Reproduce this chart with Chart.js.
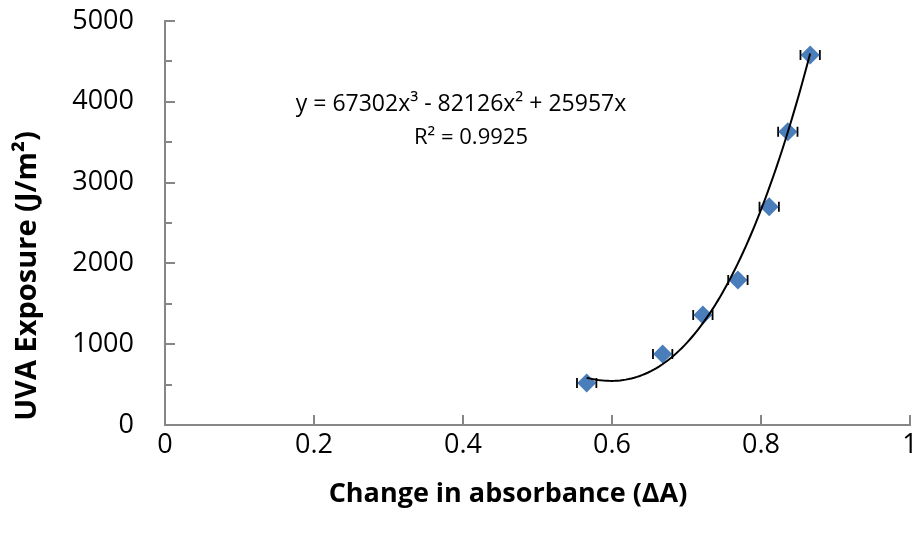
<!DOCTYPE html>
<html>
<head>
<meta charset="utf-8">
<script src="https://cdn.jsdelivr.net/npm/chart.js@4.4.0/dist/chart.umd.min.js"></script>
<style>
html, body { margin: 0; padding: 0; background: #fff; }
</style>
</head>
<body>
<canvas id="myChart" width="921" height="535"></canvas>
<script>
// Values
var deltaA = [0.566, 0.668, 0.722, 0.769, 0.811, 0.836, 0.866];
var uvaExposure = [520, 880, 1360, 1795, 2700, 3630, 4580];
var deltaAError = [0.013, 0.013, 0.013, 0.013, 0.013, 0.013, 0.013];

// Trendline as printed on the chart (x^3, x^2, x, constant)
var fitCoeffs = [67302, -82126, 25957, 0];
var equationLines = ["y = 67302x³ - 82126x² + 25957x", "R² = 0.9925"];

var xTicks = [0, 0.2, 0.4, 0.6, 0.8, 1];
var yTicks = [0, 1000, 2000, 3000, 4000, 5000];
var yMinorTicks = [500, 1500, 2500, 3500, 4500];

var xTitle = "Change in absorbance (ΔA)";
var yTitle = "UVA Exposure (J/m²)";

var axisGrey = "#868686";
var markerBlue = "#4a7ebb";
var fontName = "'Open Sans', sans-serif";

// points of the printed trendline, between the first and last data point
var fitPoints = [];
var xStart = Math.min.apply(null, deltaA);
var xEnd = Math.max.apply(null, deltaA);
for (var i = 0; i <= 80; i++) {
	var x = xStart + (xEnd - xStart) * i / 80;
	var y = fitCoeffs[0] * x * x * x + fitCoeffs[1] * x * x + fitCoeffs[2] * x + fitCoeffs[3];
	fitPoints.push({ x: x, y: y });
}

var points = deltaA.map(function(x, i) {
	return { x: x, y: uvaExposure[i] };
});

// error bars, inward ticks, titles and equation
var extras = {
	id: "extras",
	beforeDatasetsDraw: function(chart) {
		var ctx = chart.ctx;
		var xs = chart.scales.x;
		var ys = chart.scales.y;
		ctx.save();
		ctx.strokeStyle = "#000";
		ctx.lineWidth = 1.8;
		for (var i = 0; i < deltaA.length; i++) {
			var py = ys.getPixelForValue(uvaExposure[i]);
			var left = xs.getPixelForValue(deltaA[i] - deltaAError[i]);
			var right = xs.getPixelForValue(deltaA[i] + deltaAError[i]);
			ctx.beginPath();
			ctx.moveTo(left, py);
			ctx.lineTo(right, py);
			ctx.moveTo(left, py - 5);
			ctx.lineTo(left, py + 5);
			ctx.moveTo(right, py - 5);
			ctx.lineTo(right, py + 5);
			ctx.stroke();
		}
		ctx.restore();
	},
	afterDraw: function(chart) {
		var ctx = chart.ctx;
		var xs = chart.scales.x;
		var ys = chart.scales.y;
		var area = chart.chartArea;
		ctx.save();
		ctx.strokeStyle = axisGrey;
		ctx.lineWidth = 2;
		ctx.beginPath();
		yTicks.forEach(function(v) {
			var p = Math.round(ys.getPixelForValue(v));
			ctx.moveTo(area.left, p);
			ctx.lineTo(area.left + 10, p);
		});
		yMinorTicks.forEach(function(v) {
			var p = Math.round(ys.getPixelForValue(v));
			ctx.moveTo(area.left, p);
			ctx.lineTo(area.left + 7, p);
		});
		xTicks.forEach(function(v) {
			var p = Math.round(xs.getPixelForValue(v));
			ctx.moveTo(p, area.bottom);
			ctx.lineTo(p, area.bottom - 10);
		});
		ctx.stroke();

		ctx.fillStyle = "#000";
		ctx.textAlign = "center";
		ctx.textBaseline = "middle";
		ctx.font = "bold 27px " + fontName;
		ctx.fillText(xTitle, 508, 494);

		ctx.save();
		ctx.translate(28, 276);
		ctx.rotate(-Math.PI / 2);
		ctx.font = "bold 29px " + fontName;
		ctx.fillText(yTitle, 0, 0);
		ctx.restore();

		ctx.font = "23px " + fontName;
		ctx.fillText(equationLines[0], 461, 104);
		ctx.font = "22px " + fontName;
		ctx.fillText(equationLines[1], 471, 138);
		ctx.restore();
	}
};

var ctx = document.getElementById("myChart");
var myChart = new Chart(ctx, {
	type: "scatter",
	data: {
		datasets: [
			{
				label: "Trendline",
				data: fitPoints,
				showLine: true,
				borderColor: "#000",
				borderWidth: 2,
				pointRadius: 0,
				tension: 0
			},
			{
				label: "UVA exposure",
				data: points,
				pointStyle: "rectRot",
				pointRadius: 9.5,
				backgroundColor: markerBlue,
				borderColor: markerBlue,
				borderWidth: 0
			}
		]
	},
	options: {
		responsive: false,
		animation: false,
		layout: { padding: { top: 21, right: 11, left: 0, bottom: 0 } },
		plugins: {
			legend: { display: false },
			tooltip: { enabled: false }
		},
		scales: {
			x: {
				type: "linear",
				min: 0,
				max: 1,
				afterBuildTicks: function(scale) {
					scale.ticks = xTicks.map(function(v) { return { value: v }; });
				},
				afterFit: function(scale) {
					scale.height = 110;
					scale.paddingLeft = 0;
					scale.paddingRight = 0;
				},
				ticks: {
					color: "#000",
					font: { family: fontName, size: 27 },
					padding: -4,
					maxRotation: 0,
					callback: function(v) { return String(v); }
				},
				grid: { display: false },
				border: { display: true, color: axisGrey, width: 2 }
			},
			y: {
				type: "linear",
				min: 0,
				max: 5000,
				afterBuildTicks: function(scale) {
					scale.ticks = yTicks.map(function(v) { return { value: v }; });
				},
				afterFit: function(scale) {
					scale.width = 165;
					scale.paddingTop = 0;
					scale.paddingBottom = 0;
				},
				ticks: {
					color: "#000",
					font: { family: fontName, size: 27 },
					padding: 23,
					callback: function(v) { return String(v); }
				},
				grid: { display: false },
				border: { display: true, color: axisGrey, width: 2 }
			}
		}
	},
	plugins: [extras]
});
</script>
</body>
</html>
